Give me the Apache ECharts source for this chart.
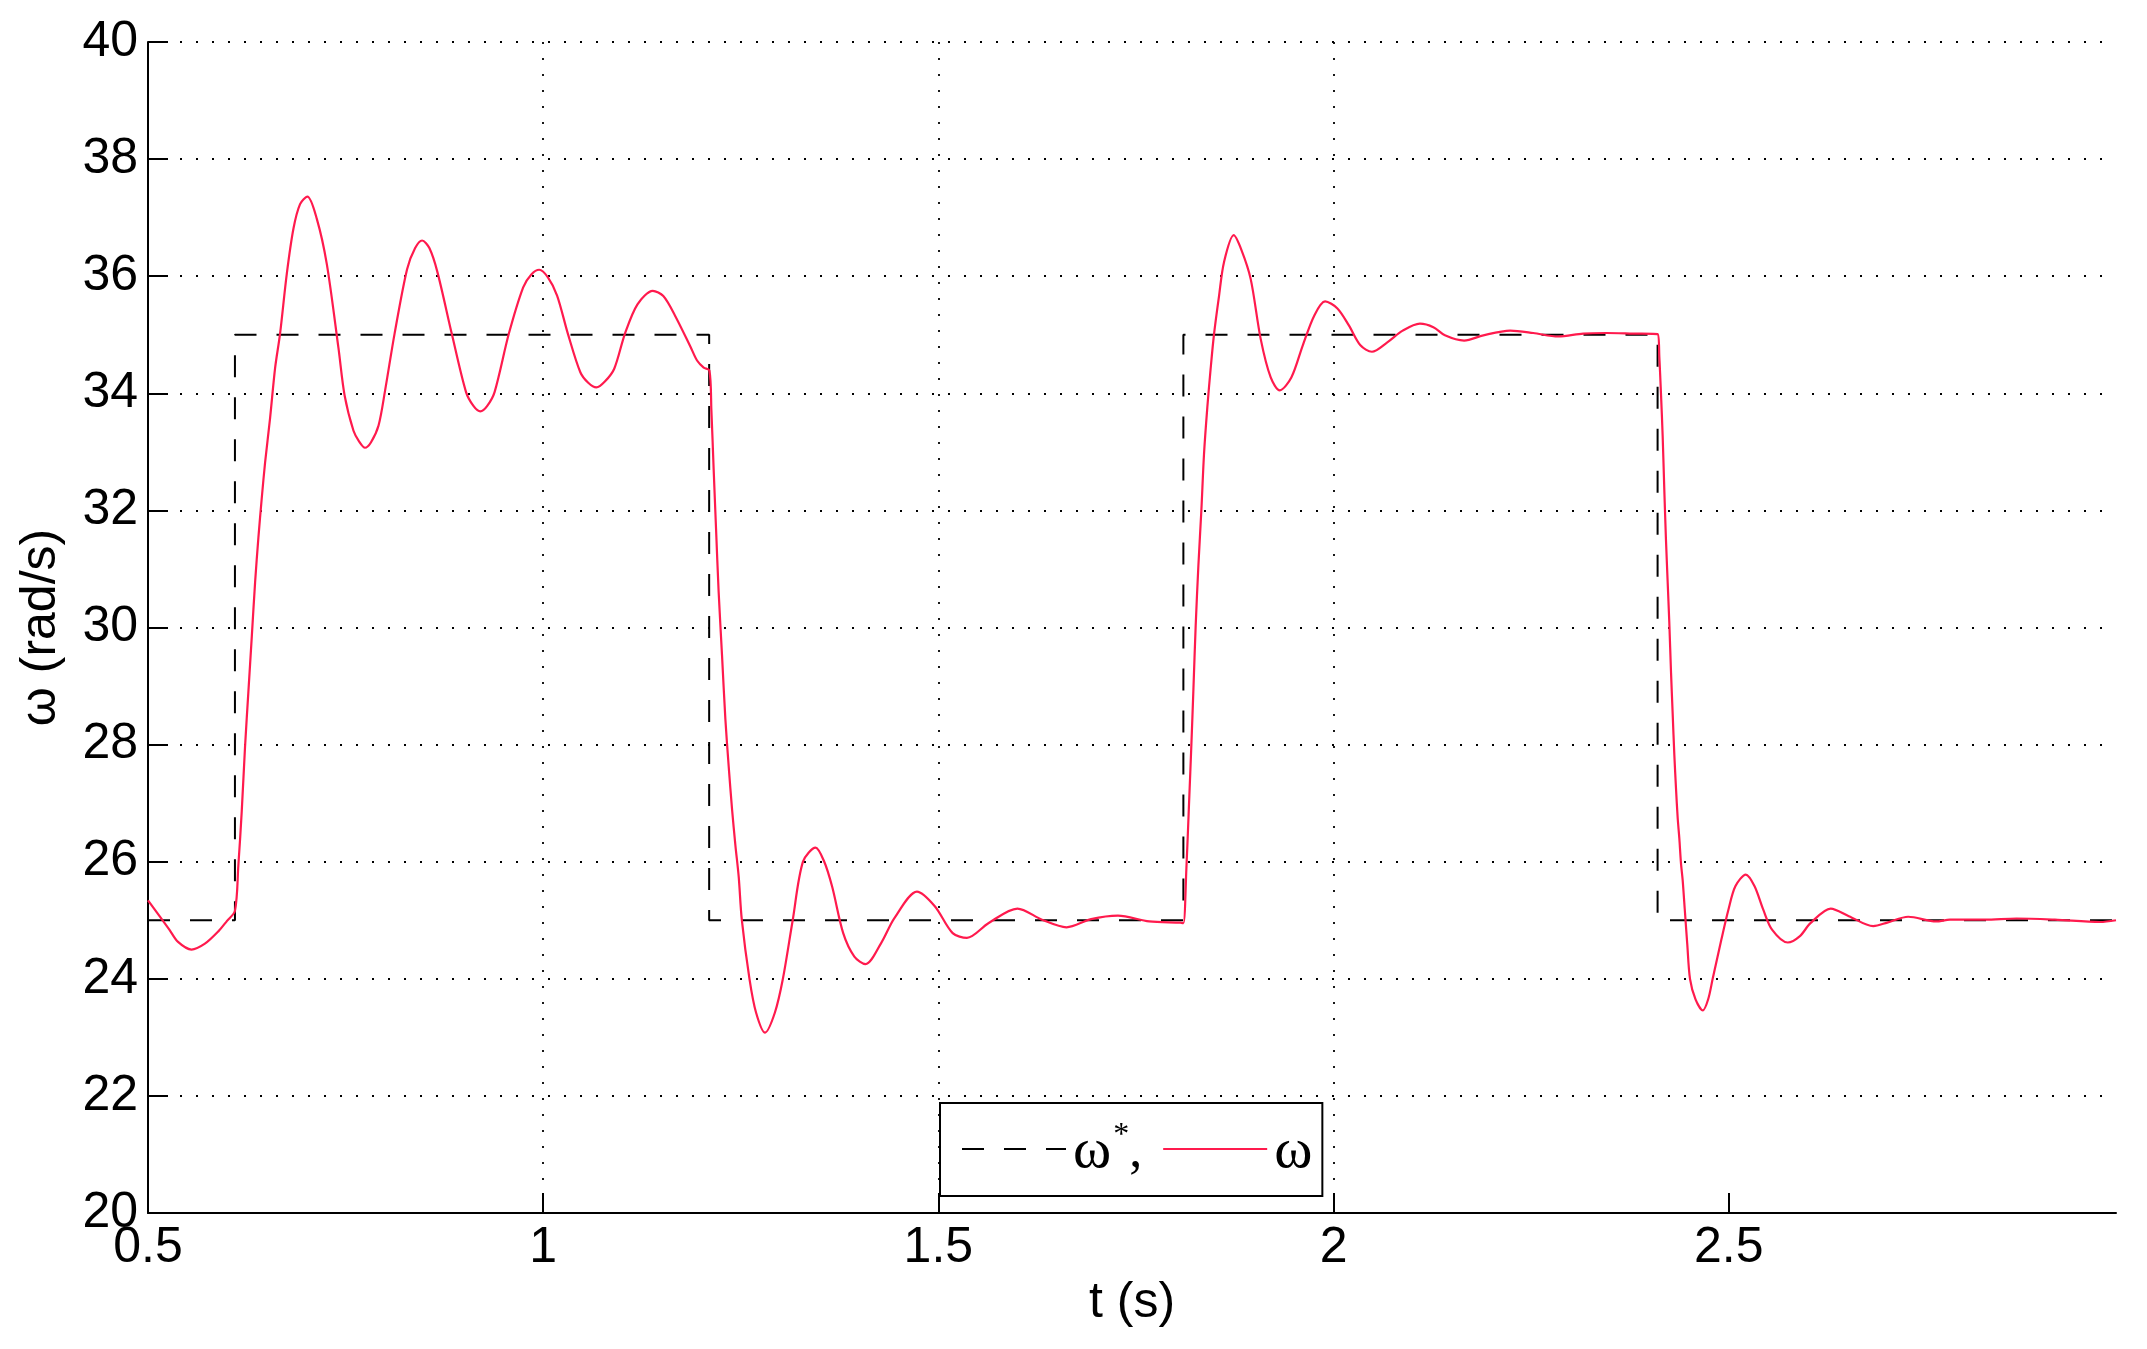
<!DOCTYPE html>
<html>
<head>
<meta charset="utf-8">
<script src="https://cdn.jsdelivr.net/npm/echarts@6/dist/echarts.min.js"></script>
<style>
  html, body { margin: 0; padding: 0; background: #fff; }
  #main { width: 2147px; height: 1349px; }
</style>
</head>
<body>
<div id="main"></div>
<script>
// reference speed (step command)
var refT = [0.5, 0.61, 0.61, 1.21, 1.21, 1.81, 1.81, 2.41, 2.41, 2.99]
var refW = [25, 25, 35, 35, 25, 25, 35, 35, 25, 25]

var wT = [
  0.500, 0.527, 0.538, 0.555, 0.572, 0.589, 0.600, 0.610, 0.6143, 0.6186,
  0.6228, 0.627, 0.6313, 0.6355, 0.6397, 0.644, 0.6481, 0.6545, 0.6608, 0.6671,
  0.6756, 0.684, 0.6924, 0.7017, 0.7136, 0.7262, 0.741, 0.7488, 0.760, 0.767,
  0.7745, 0.782, 0.7917, 0.800, 0.812, 0.8278, 0.838, 0.8468, 0.856, 0.8662,
  0.8843, 0.9024, 0.912, 0.9205, 0.929, 0.9385, 0.9566, 0.9747, 0.985, 0.995,
  1.006, 1.0176, 1.0312, 1.047, 1.057, 1.0673, 1.078, 1.0899, 1.1035, 1.1193,
  1.1387, 1.152, 1.1667, 1.1862, 1.1947, 1.2031, 1.2103, 1.2128, 1.2157, 1.2187,
  1.222, 1.2263, 1.2305, 1.2347, 1.239, 1.2432, 1.2474, 1.2513, 1.261, 1.2694,
  1.2807, 1.2931, 1.3033, 1.3157, 1.3287, 1.3446, 1.355, 1.3655, 1.3796, 1.3937,
  1.4079, 1.4276, 1.4446, 1.4729, 1.4955, 1.5181, 1.5362, 1.5633, 1.600, 1.6311,
  1.6622, 1.6933, 1.7272, 1.7668, 1.8063, 1.810, 1.8138, 1.8171, 1.8201, 1.8227,
  1.8256, 1.829, 1.8328, 1.8361, 1.8403, 1.8445, 1.8487, 1.8551, 1.8614, 1.8737,
  1.8834, 1.8952, 1.9078, 1.9205, 1.932, 1.9466, 1.9611, 1.9757, 1.9893, 2.0049,
  2.0194, 2.034, 2.0486, 2.068, 2.0875, 2.1093, 2.1263, 2.1409, 2.1652, 2.1895,
  2.2235, 2.2527, 2.2843, 2.3159, 2.345, 2.379, 2.4101, 2.4122, 2.4143, 2.4164,
  2.4185, 2.4206, 2.4227, 2.4248, 2.427, 2.4291, 2.4312, 2.4333, 2.4354, 2.4375,
  2.4396, 2.4417, 2.4443, 2.4475, 2.451, 2.458, 2.4673, 2.474, 2.4797, 2.4907,
  2.4996, 2.5084, 2.5216, 2.5327, 2.5437, 2.5548, 2.5747, 2.5901, 2.6034, 2.629,
  2.652, 2.6829, 2.7006, 2.7271, 2.7624, 2.78, 2.8242, 2.864, 2.9126, 2.97,
  2.99
]
var wW = [
  25.34, 24.84, 24.63, 24.50, 24.60, 24.81, 24.99, 25.16, 25.93, 26.86,
  27.97, 28.90, 29.84, 30.77, 31.54, 32.22, 32.81, 33.58, 34.43, 35.02,
  36.04, 36.81, 37.23, 37.36, 36.98, 36.21, 34.77, 33.96, 33.36, 33.18,
  33.07, 33.16, 33.45, 34.05, 35.02, 36.12, 36.48, 36.61, 36.48, 36.07,
  35.02, 34.02, 33.78, 33.69, 33.78, 34.02, 35.02, 35.81, 36.03, 36.11,
  35.98, 35.67, 35.02, 34.36, 34.18, 34.10, 34.20, 34.42, 35.02, 35.52,
  35.75, 35.66, 35.33, 34.80, 34.56, 34.44, 34.39, 33.72, 32.70, 31.69,
  30.61, 29.52, 28.44, 27.63, 26.89, 26.28, 25.74, 25.01, 24.00, 23.42,
  23.08, 23.42, 24.00, 25.00, 26.00, 26.24, 26.02, 25.58, 24.78, 24.38,
  24.25, 24.61, 25.04, 25.49, 25.24, 24.78, 24.70, 24.95, 25.20, 25.01,
  24.88, 25.02, 25.08, 24.98, 24.96, 24.95, 25.88, 26.97, 27.99, 28.94,
  30.04, 31.06, 32.01, 32.96, 33.76, 34.42, 35.00, 35.66, 36.24, 36.70,
  36.45, 35.95, 34.93, 34.27, 34.05, 34.27, 34.82, 35.33, 35.57, 35.45,
  35.16, 34.82, 34.71, 34.87, 35.07, 35.19, 35.13, 34.99, 34.90, 34.99,
  35.07, 35.03, 34.97, 35.02, 35.03, 35.02, 35.01, 34.62, 33.99, 33.28,
  32.35, 31.50, 30.79, 30.09, 29.23, 28.52, 27.82, 27.25, 26.75, 26.40,
  25.97, 25.69, 25.20, 24.60, 24.00, 23.65, 23.46, 23.65, 24.00, 24.67,
  25.18, 25.58, 25.78, 25.58, 25.18, 24.84, 24.62, 24.73, 24.95, 25.20,
  25.07, 24.90, 24.96, 25.06, 24.98, 25.01, 25.01, 25.03, 25.01, 24.97,
  25.00
]

var xTicks = [0.5, 1, 1.5, 2, 2.5]

var refData = refT.map(function (t, i) { return [t, refW[i]] })
var wData = wT.map(function (t, i) { return [t, wW[i]] })

var myChart = echarts.init(document.getElementById('main'))
var axisFont = 'Liberation Sans'
var dotted = { color: '#000', width: 1.8, type: [2, 14] }

myChart.setOption({
  animation: false,
  backgroundColor: '#fff',
  grid: {
    left: 148,
    right: 31,
    top: 42,
    bottom: 136
  },
  legend: {
    left: 940,
    top: 1103,
    padding: [14, 10, 14, 21],
    borderColor: '#000',
    borderWidth: 2,
    itemWidth: 104,
    itemHeight: 20,
    itemGap: 20,
    itemStyle: { opacity: 0 },
    data: ['ω*', 'ω'],
    formatter: function (name) {
      return name === 'ω*' ? '{w|ω}{s|*}{c|,}' : '{w|ω}'
    },
    textStyle: {
      color: '#000',
      rich: {
        w: { fontFamily: 'Liberation Serif', fontSize: 58, lineHeight: 58, padding: [6, 0, 0, 2], color: '#000' },
        s: { fontFamily: 'Liberation Serif', fontSize: 32, lineHeight: 32, verticalAlign: 'top', padding: [0, 0, 30, 2], color: '#000' },
        c: { fontFamily: 'Liberation Serif', fontSize: 52, lineHeight: 58, padding: [6, 0, 0, 0], color: '#000' }
      }
    }
  },
  xAxis: {
    type: 'value',
    min: 0.5,
    max: 2.99,
    interval: 0.5,
    name: 't (s)',
    nameLocation: 'middle',
    nameGap: 64,
    nameTextStyle: { fontFamily: axisFont, fontSize: 50, color: '#000' },
    axisLine: { lineStyle: { color: '#000', width: 2 } },
    axisTick: { inside: true, length: 20, customValues: xTicks, lineStyle: { color: '#000', width: 2 } },
    axisLabel: { customValues: xTicks, margin: 10, fontFamily: axisFont, fontSize: 50, color: '#000' },
    splitLine: { show: true, showMaxLine: false, lineStyle: dotted }
  },
  yAxis: {
    type: 'value',
    min: 20,
    max: 40,
    interval: 2,
    name: 'ω (rad/s)',
    nameLocation: 'middle',
    nameGap: 82,
    nameTextStyle: { fontFamily: axisFont, fontSize: 50, color: '#000' },
    axisLine: { show: true, lineStyle: { color: '#000', width: 2 } },
    axisTick: { show: true, inside: true, length: 20, lineStyle: { color: '#000', width: 2 } },
    axisLabel: { margin: 10, fontFamily: axisFont, fontSize: 50, color: '#000' },
    splitLine: { show: true, lineStyle: dotted }
  },
  series: [
    {
      name: 'ω*',
      type: 'line',
      symbol: 'none',
      data: refData,
      lineStyle: { color: '#000', width: 2, type: [22, 20] },
      itemStyle: { color: '#000' }
    },
    {
      name: 'ω',
      type: 'line',
      symbol: 'none',
      smooth: 0.3,
      data: wData,
      lineStyle: { color: '#FF1A4D', width: 2.2 },
      itemStyle: { color: '#FF1A4D' }
    }
  ]
})
</script>
</body>
</html>
